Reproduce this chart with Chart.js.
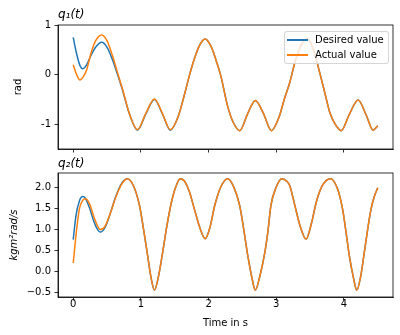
<!DOCTYPE html>
<html>
<head>
<meta charset="utf-8">
<script src="https://cdn.jsdelivr.net/npm/chart.js@4/dist/chart.umd.min.js"></script>
<style>
  body { margin: 0; background: #fff; }
  #wrap { position: relative; width: 400px; height: 335px; font-family: "DejaVu Sans", sans-serif; }
  #wrap canvas { position: absolute; left: 0; }
  #legend {
    position: absolute; left: 284px; top: 31px; width: 103px; height: 31px;
    border: 1px solid rgba(204, 204, 204, 0.8); border-radius: 3px;
    background: rgba(255, 255, 255, 0.8); font-size: 10px; color: #000;
  }
  .item { position: absolute; left: 0; height: 12px; line-height: 12px; white-space: nowrap; }
  .item span.line { position: absolute; left: 2px; top: 5px; width: 21px; height: 2px; }
  .item span.txt { position: absolute; left: 30px; top: 0; }
</style>
</head>
<body>
<div id="wrap">
  <canvas id="q1" width="400" height="160" style="top:0"></canvas>
  <canvas id="q2" width="400" height="185" style="top:150px"></canvas>
  <div id="legend"></div>
</div>
<script>
// q1(t), rad
const q1Time    = [0, 0.05, 0.10, 0.14, 0.20, 0.26, 0.33, 0.42, 0.50, 0.58, 0.65, 0.73, 0.83, 0.95, 1.07, 1.20, 1.32, 1.435, 1.55, 1.64, 1.72, 1.79, 1.87, 1.95, 2.04, 2.12, 2.18, 2.28, 2.36, 2.46, 2.58, 2.69, 2.81, 2.93, 3.04, 3.12, 3.20, 3.27, 3.37, 3.46, 3.55, 3.64, 3.72, 3.79, 3.87, 3.96, 4.08, 4.21, 4.33, 4.43, 4.50];
const q1Desired = [0.75, 0.42, 0.18, 0.12, 0.20, 0.38, 0.55, 0.65, 0.55, 0.30, 0.02, -0.32, -0.79, -1.12, -0.80, -0.50, -0.80, -1.12, -0.85, -0.42, 0.00, 0.32, 0.60, 0.72, 0.56, 0.25, -0.02, -0.63, -0.95, -1.13, -0.78, -0.52, -0.78, -1.13, -0.86, -0.49, -0.16, 0.22, 0.60, 0.73, 0.50, 0.05, -0.38, -0.76, -1.00, -1.13, -0.80, -0.51, -0.82, -1.12, -1.03];
const q1Actual  = [0.20, 0.00, -0.11, -0.06, 0.10, 0.42, 0.68, 0.80, 0.68, 0.38, 0.06, -0.30, -0.79, -1.11, -0.79, -0.49, -0.79, -1.11, -0.85, -0.42, 0.00, 0.32, 0.60, 0.72, 0.56, 0.25, -0.02, -0.63, -0.95, -1.13, -0.78, -0.52, -0.78, -1.13, -0.86, -0.49, -0.16, 0.22, 0.60, 0.73, 0.50, 0.05, -0.38, -0.76, -1.00, -1.13, -0.80, -0.51, -0.82, -1.12, -1.03];

// q2(t), kg m^2 rad/s
const q2Time    = [0, 0.04, 0.09, 0.14, 0.18, 0.24, 0.30, 0.35, 0.40, 0.47, 0.55, 0.63, 0.72, 0.80, 0.89, 0.98, 1.04, 1.10, 1.15, 1.20, 1.26, 1.32, 1.38, 1.44, 1.51, 1.58, 1.64, 1.72, 1.79, 1.87, 1.95, 2.02, 2.09, 2.18, 2.28, 2.37, 2.46, 2.52, 2.58, 2.64, 2.69, 2.76, 2.83, 2.88, 2.92, 3.00, 3.08, 3.16, 3.20, 3.27, 3.35, 3.44, 3.52, 3.59, 3.68, 3.80, 3.90, 3.98, 4.03, 4.08, 4.14, 4.19, 4.25, 4.30, 4.35, 4.40, 4.45, 4.50];
const q2Desired = [0.76, 1.33, 1.68, 1.79, 1.75, 1.52, 1.22, 1.03, 0.94, 1.05, 1.40, 1.80, 2.12, 2.22, 2.05, 1.57, 1.00, 0.37, -0.15, -0.45, -0.12, 0.44, 1.05, 1.57, 2.00, 2.22, 2.17, 1.89, 1.49, 1.05, 0.78, 1.05, 1.57, 2.02, 2.22, 2.03, 1.57, 1.00, 0.37, -0.15, -0.45, -0.10, 0.44, 1.00, 1.57, 2.02, 2.22, 2.15, 2.05, 1.61, 1.10, 0.77, 1.15, 1.65, 2.05, 2.22, 2.00, 1.49, 0.95, 0.37, -0.15, -0.45, -0.10, 0.44, 1.00, 1.49, 1.80, 2.00];
const q2Actual  = [0.20, 0.85, 1.49, 1.70, 1.74, 1.62, 1.33, 1.12, 1.00, 1.08, 1.40, 1.78, 2.10, 2.22, 2.05, 1.57, 1.00, 0.37, -0.15, -0.45, -0.12, 0.44, 1.05, 1.57, 2.00, 2.22, 2.17, 1.89, 1.49, 1.05, 0.78, 1.05, 1.57, 2.02, 2.22, 2.03, 1.57, 1.00, 0.37, -0.15, -0.45, -0.10, 0.44, 1.00, 1.57, 2.02, 2.22, 2.15, 2.05, 1.61, 1.10, 0.77, 1.15, 1.65, 2.05, 2.22, 2.00, 1.49, 0.95, 0.37, -0.15, -0.45, -0.10, 0.44, 1.00, 1.49, 1.80, 2.00];

const xTicks = [0, 1, 2, 3, 4];
const xTickLabels = ["0", "1", "2", "3", "4"];
const q1Ticks = [-1, 0, 1];
const q1TickLabels = ["-1", "0", "1"];
const q2Ticks = [-0.5, 0, 0.5, 1, 1.5, 2];
const q2TickLabels = ["\u22120.5", "0.0", "0.5", "1.0", "1.5", "2.0"];

const seriesNames = ["Desired value", "Actual value"];
const BLUE = "#1f77b4";
const ORANGE = "#ff7f0e";

const FONT = "'DejaVu Sans', sans-serif";

// top and right spines
const framePlugin = {
  id: "frame",
  afterDraw(chart) {
    const a = chart.chartArea;
    const ctx = chart.ctx;
    ctx.save();
    ctx.strokeStyle = "#000";
    ctx.lineWidth = 0.8;
    ctx.strokeRect(a.left, a.top, a.right - a.left, a.bottom - a.top);
    ctx.restore();
  }
};

function pts(t, v) {
  return t.map((x, i) => ({ x: x, y: v[i] }));
}

function makeChart(id, opts) {
  const ctx = document.getElementById(id);
  return new Chart(ctx, {
    type: "line",
    data: {
      datasets: [
        {
          label: seriesNames[0],
          data: pts(opts.time, opts.desired),
          borderColor: BLUE,
          borderWidth: 1.5,
          pointRadius: 0,
          cubicInterpolationMode: "monotone",
          order: 1
        },
        {
          label: seriesNames[1],
          data: pts(opts.time, opts.actual),
          borderColor: ORANGE,
          borderWidth: 1.5,
          pointRadius: 0,
          cubicInterpolationMode: "monotone",
          order: 0
        }
      ]
    },
    options: {
      responsive: false,
      animation: false,
      devicePixelRatio: 1,
      layout: { padding: { left: 0, right: 7, top: 0, bottom: 0 } },
      plugins: {
        legend: { display: false },
        tooltip: { enabled: false },
        title: {
          display: true,
          text: opts.title,
          align: "start",
          fullSize: false,
          color: "#000",
          font: { family: FONT, size: 12, style: "italic", weight: "normal" },
          padding: opts.titlePad
        }
      },
      scales: {
        x: {
          type: "linear",
          min: -0.225,
          max: 4.725,
          afterBuildTicks: s => { s.ticks = xTicks.map(v => ({ value: v })); },
          afterFit: s => { s.height = opts.xHeight; },
          grid: { drawOnChartArea: false, drawTicks: true, tickLength: 3.5, color: "#000", lineWidth: 0.8 },
          border: { display: true, color: "#000", width: 0.8 },
          ticks: {
            display: opts.showX,
            padding: -2,
            color: "#000",
            font: { family: FONT, size: 10 },
            maxRotation: 0,
            callback: v => xTickLabels[xTicks.indexOf(v)]
          },
          title: {
            display: opts.showX,
            text: "Time in s",
            color: "#000",
            font: { family: FONT, size: 10 },
            padding: { top: 3, bottom: 6 }
          }
        },
        y: {
          type: "linear",
          min: opts.yMin,
          max: opts.yMax,
          afterBuildTicks: s => { s.ticks = opts.yTicks.map(v => ({ value: v })); },
          afterFit: s => { s.width = 58; },
          grid: { drawOnChartArea: false, drawTicks: true, tickLength: 3.5, color: "#000", lineWidth: 0.8 },
          border: { display: true, color: "#000", width: 0.8 },
          ticks: {
            padding: 3.5,
            color: "#000",
            font: { family: FONT, size: 10 },
            callback: v => opts.yLabels[opts.yTicks.indexOf(v)]
          },
          title: {
            display: true,
            text: opts.yTitle,
            color: "#000",
            font: { family: FONT, size: 10, style: opts.yTitleStyle },
            padding: { top: opts.yTitleX, bottom: 0 }
          }
        }
      }
    },
    plugins: [framePlugin]
  });
}

const chart1 = makeChart("q1", {
  time: q1Time, desired: q1Desired, actual: q1Actual,
  title: "q\u2081(t)", titlePad: { top: 8, bottom: 2.6 },
  showX: false, xHeight: 11,
  yMin: -1.5, yMax: 1.0, yTicks: q1Ticks, yLabels: q1TickLabels,
  yTitle: "rad", yTitleStyle: "normal", yTitleX: 12
});

const chart2 = makeChart("q2", {
  time: q2Time, desired: q2Desired, actual: q2Actual,
  title: "q\u2082(t)", titlePad: { top: 7, bottom: 1.6 },
  showX: true, xHeight: 38,
  yMin: -0.615, yMax: 2.355, yTicks: q2Ticks, yLabels: q2TickLabels,
  yTitle: "kgm\u00b2rad/s", yTitleStyle: "italic", yTitleX: 8.5
});

// legend drawn inside the top axes, upper right
const legend = document.getElementById("legend");
chart1.data.datasets.forEach((ds, i) => {
  const item = document.createElement("div");
  item.className = "item";
  item.style.top = (2 + i * 14.5) + "px";
  item.innerHTML = '<span class="line" style="background:' + ds.borderColor + '"></span><span class="txt">' + ds.label + "</span>";
  legend.appendChild(item);
});
</script>
</body>
</html>
